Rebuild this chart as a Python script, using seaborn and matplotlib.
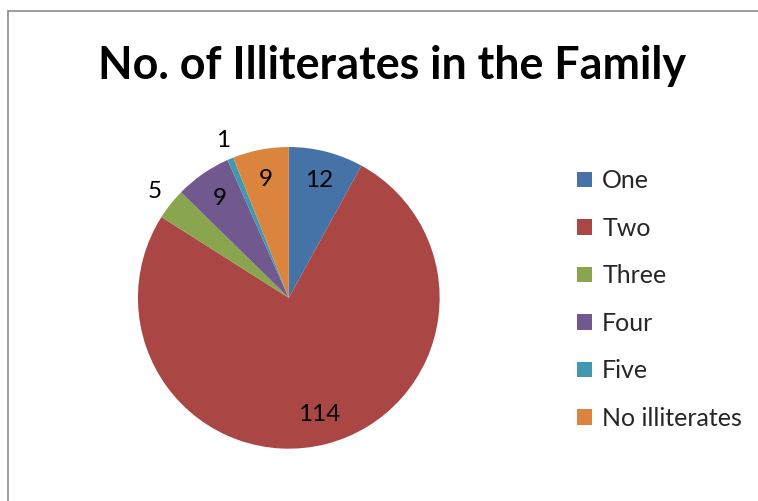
import numpy as np
import matplotlib
matplotlib.use("Agg")
import matplotlib.pyplot as plt
from matplotlib.lines import Line2D
import seaborn as sns

categorias = ['One', 'Two', 'Three', 'Four', 'Five', 'No illiterates']
valores = [12, 114, 5, 9, 1, 9]
cores = ['#4572A7', '#AA4643', '#89A54E', '#71588F', '#4198AF', '#DB843D']
titulo = 'No. of Illiterates in the Family'

sns.set_theme(style='white')
plt.rcParams['font.family'] = ['Lato', 'DejaVu Sans']

fig = plt.figure(figsize=(7.58, 5.01), dpi=100)
fig.patch.set_facecolor('white')

ax = fig.add_axes([0.182, 0.104, 0.398, 0.603])
wedges, _ = ax.pie(valores, colors=sns.color_palette(cores), startangle=90,
                   counterclock=False, wedgeprops={'linewidth': 0})
ax.set_aspect('equal')
ax.set_xlim(-1, 1)
ax.set_ylim(-1, 1)

total = sum(valores)
for w, v in zip(wedges, valores):
    ang = np.deg2rad((w.theta1 + w.theta2) / 2)
    r = 1.13 if v / total < 0.05 else 0.80
    ax.text(r * np.cos(ang), r * np.sin(ang), str(v), ha='center', va='center',
            fontsize=17.5, color='black')

fig.text(0.517, 0.868, titulo, ha='center', va='center', fontsize=32.3,
         fontweight='bold', color='black')

fig.legend(wedges, categorias, loc='upper left', bbox_to_anchor=(0.745, 0.687),
           frameon=False, fontsize=18, handlelength=0.6, handleheight=0.6,
           handletextpad=0.4, labelspacing=0.98, borderpad=0)

# chart area border (left and top, as cropped)
fig.add_artist(Line2D([8 / 758, 8 / 758], [0, 1 - 11 / 501], transform=fig.transFigure,
                      color='#8c8c8c', linewidth=1.2))
fig.add_artist(Line2D([8 / 758, 1], [1 - 11 / 501, 1 - 11 / 501], transform=fig.transFigure,
                      color='#8c8c8c', linewidth=1.2))

fig.savefig('out.png', dpi=100)
